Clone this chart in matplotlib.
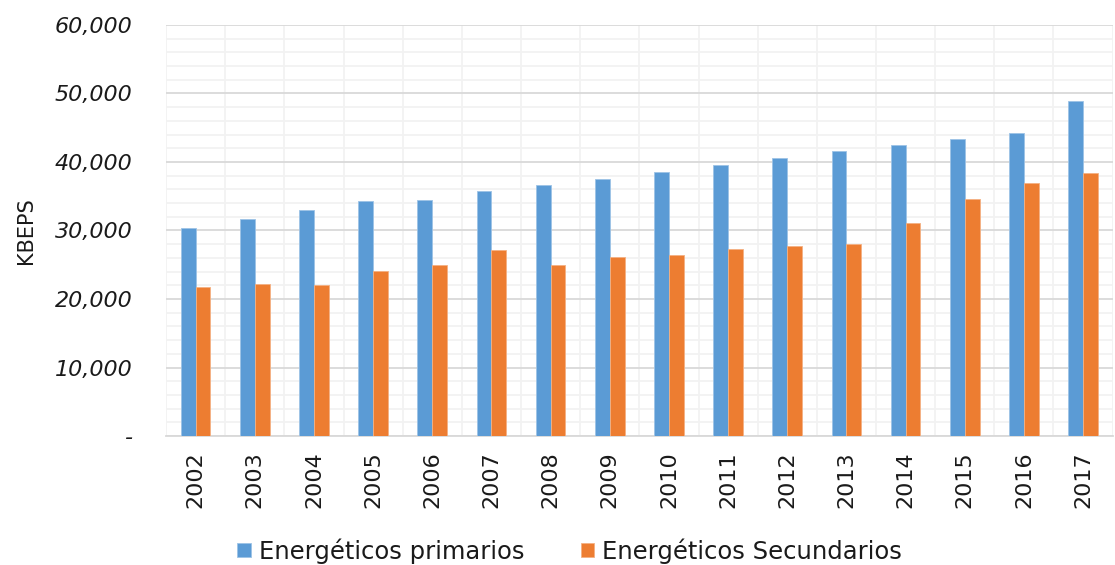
import matplotlib.pyplot as plt
import numpy as np
from matplotlib.ticker import FuncFormatter, MultipleLocator

years = ["2002", "2003", "2004", "2005", "2006", "2007", "2008", "2009",
         "2010", "2011", "2012", "2013", "2014", "2015", "2016", "2017"]
primarios = [30350, 31630, 32990, 34350, 34500, 35720, 36640, 37560,
             38490, 39560, 40540, 41650, 42480, 43310, 44230, 48900]
secundarios = [21800, 22230, 22090, 24090, 25010, 27150, 24920, 26180,
               26380, 27300, 27780, 28030, 31050, 34600, 36890, 38350]

BLUE = "#5B9BD5"
ORANGE = "#ED7D31"
TEXT = "#1A1A1A"

plt.rcParams["font.family"] = ["DejaVu Sans"]

fig = plt.figure(figsize=(11.15, 5.65), dpi=100)
ax = fig.add_axes([0.1489, 0.2283, 0.849, 0.7275])

x = np.arange(len(years))
w = 0.25
ax.bar(x - w / 2, primarios, w, color=BLUE, edgecolor="#9DC3E6", linewidth=0.6,
       label="Energéticos primarios", zorder=3)
ax.bar(x + w / 2, secundarios, w, color=ORANGE, edgecolor="#F4B183", linewidth=0.6,
       label="Energéticos Secundarios", zorder=3)

ax.set_xlim(-0.5, len(years) - 0.5)
ax.set_ylim(0, 60000)

# gridlines: major every 10,000, minor every 2,000, verticals every half category
ax.yaxis.set_major_locator(MultipleLocator(10000))
ax.yaxis.set_minor_locator(MultipleLocator(2000))
ax.set_xticks(x)
ax.set_xticks(np.arange(-0.5, len(years), 0.5), minor=True)
ax.grid(axis="y", which="major", color="#D9D9D9", linewidth=1.3, zorder=0)
ax.grid(axis="y", which="minor", color="#F2F2F2", linewidth=1.3, zorder=0)
ax.grid(axis="x", which="minor", color="#F2F2F2", linewidth=1.3, zorder=0)
ax.grid(axis="x", which="major", visible=False)
ax.set_axisbelow(True)

ax.yaxis.set_major_formatter(FuncFormatter(lambda v, _: "-" if v == 0 else f"{v:,.0f}"))
ax.set_xticklabels(years, rotation=90)
ax.tick_params(axis="both", which="both", length=0, labelcolor=TEXT)
ax.tick_params(axis="y", labelsize=16, pad=24)
ax.tick_params(axis="x", labelsize=16, pad=11)
for lbl in ax.get_yticklabels():
    lbl.set_fontstyle("italic")

for s in ["top", "right", "left"]:
    ax.spines[s].set_visible(False)
ax.spines["bottom"].set_color("#D9D9D9")
ax.spines["bottom"].set_linewidth(1.3)

ax.set_ylabel("KBEPS", fontsize=15, color=TEXT)
ax.yaxis.set_label_coords(-0.137, 0.5)

leg = fig.legend(loc="center", bbox_to_anchor=(0.511, 0.025), ncol=2, frameon=False,
                 fontsize=17.5, handlelength=0.55, handleheight=0.55, handletextpad=0.35,
                 columnspacing=2.3)
for t in leg.get_texts():
    t.set_color(TEXT)

fig.savefig("out.png", dpi=100)
